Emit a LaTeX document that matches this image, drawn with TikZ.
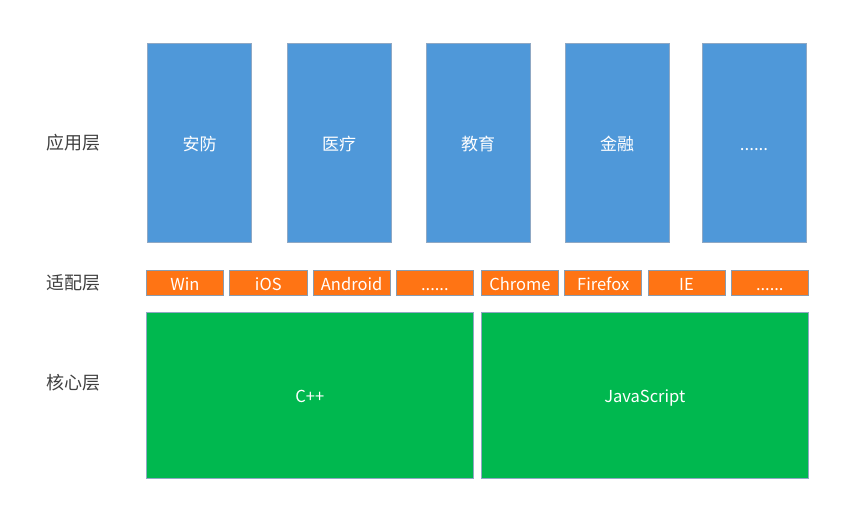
\documentclass[tikz,border=0pt]{standalone}
\usepackage{fontspec}
\setmainfont{Noto Sans CJK SC}
\usetikzlibrary{positioning}
\definecolor{appblue}{HTML}{4F98D9}
\definecolor{adaptorange}{HTML}{FF7414}
\definecolor{coregreen}{HTML}{00B84F}
\definecolor{boxline}{HTML}{8FA8C4}
\definecolor{labelgray}{HTML}{404040}

\begin{document}
\begin{tikzpicture}[x=1pt, y=-1pt,
    app/.style={draw=boxline, line width=0.8pt, outer sep=0pt, fill=appblue, text=white, inner sep=0pt, text height=14pt, text depth=0pt, minimum width=104.2pt, minimum height=199.5pt, font=\fontsize{17}{20}\selectfont},
    adapt/.style={draw=boxline!70!gray, line width=0.8pt, outer sep=0pt, fill=adaptorange, text=white, inner sep=0pt, text height=14pt, text depth=0pt, minimum width=77.2pt, minimum height=25.2pt, font=\fontsize{16.5}{18}\selectfont},
    core/.style={draw=boxline, line width=0.8pt, outer sep=0pt, fill=coregreen, text=white, inner sep=0pt, text height=14pt, text depth=0pt, minimum width=326.8pt, minimum height=165.2pt, font=\fontsize{16.5}{18}\selectfont},
    layer/.style={text=labelgray, font=\fontsize{18}{20}\selectfont},
    ]
    \useasboundingbox (0,0) rectangle (857,515);

    % Layer labels
    \node[layer] (lapp) at (73,143) {应用层};
    \node[layer] (ladapt) at (73,283) {适配层};
    \node[layer] (lcore) at (73,383) {核心层};

    % Application layer
    \node[app] (security) at (199.5,143) {安防};
    \node[app, right=35.3pt of security] (medical) {医疗};
    \node[app, right=34.8pt of medical] (education) {教育};
    \node[app, right=34.8pt of education] (finance) {金融};
    \node[app, right=32.8pt of finance] (moreapp) {......};

    % Adaptation layer
    \node[adapt] (win) at (185,283) {Win};
    \node[adapt, right=6.1pt of win] (ios) {iOS};
    \node[adapt, right=6.1pt of ios] (android) {Android};
    \node[adapt, right=6.1pt of android] (moreos) {......};
    \node[adapt, right=7.8pt of moreos] (chrome) {Chrome};
    \node[adapt, right=6.1pt of chrome] (firefox) {Firefox};
    \node[adapt, right=6.1pt of firefox] (ie) {IE};
    \node[adapt, right=6.1pt of ie] (morebrowser) {......};

    % Core layer
    \node[core] (cpp) at (309.75,395.3) {C++};
    \node[core, right=8.2pt of cpp] (js) {JavaScript};
\end{tikzpicture}
\end{document}
